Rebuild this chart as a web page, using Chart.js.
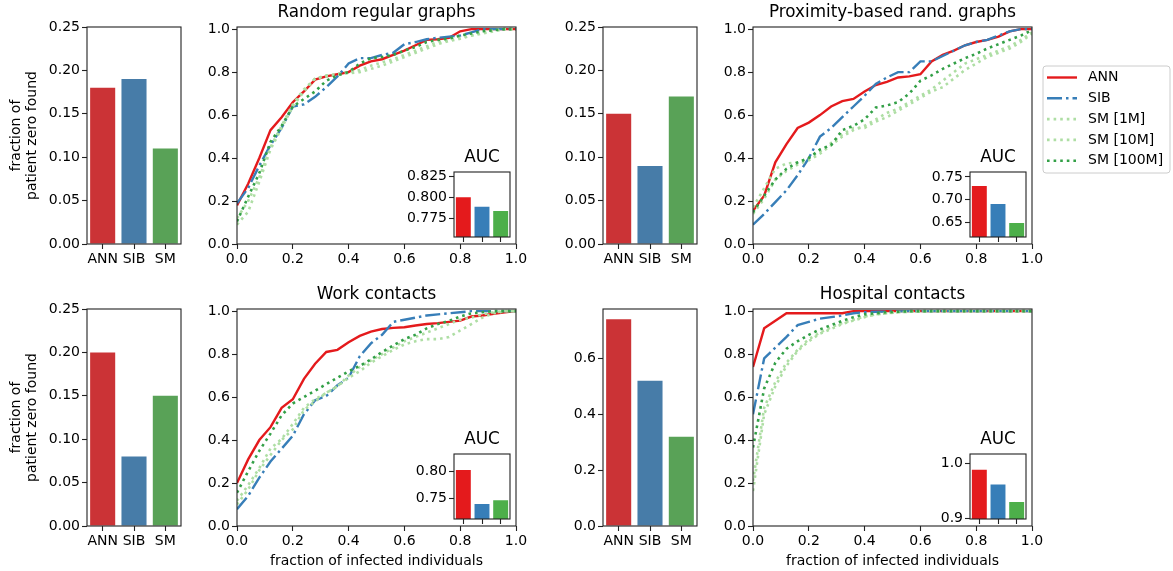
<!DOCTYPE html>
<html lang="en">
<head>
<meta charset="UTF-8">
<title>Patient zero detection</title>
<script src="https://cdn.jsdelivr.net/npm/chart.js"></script>
<style>
  body { margin: 0; background: #fff; width: 1173px; height: 571px; position: relative; overflow: hidden; }
  canvas { position: absolute; }
</style>
</head>
<body>
<script>
// ---- data ----
const methods = ['ANN', 'SIB', 'SM'];
const curveNames = ['ANN', 'SIB', 'SM [1M]', 'SM [10M]', 'SM [100M]'];
const fractionInfected = [0.00, 0.04, 0.08, 0.12, 0.16, 0.20, 0.24, 0.28, 0.32, 0.36, 0.40, 0.44, 0.48,
                          0.52, 0.56, 0.60, 0.64, 0.68, 0.72, 0.76, 0.80, 0.84, 0.88, 0.92, 0.96, 1.00];

// Random regular graphs
const rrgFound = [0.18, 0.19, 0.11];
const rrgAuc = [0.800, 0.789, 0.784];
const rrgAnn = [0.18, 0.28, 0.40, 0.53, 0.59, 0.66, 0.71, 0.765, 0.78, 0.79, 0.80, 0.83, 0.85, 0.86, 0.88, 0.90, 0.925, 0.95, 0.953, 0.96, 0.99, 1.0, 1.0, 1.0, 1.0, 1.0];
const rrgSib = [0.19, 0.26, 0.365, 0.46, 0.54, 0.64, 0.65, 0.685, 0.73, 0.78, 0.84, 0.865, 0.865, 0.88, 0.89, 0.93, 0.94, 0.953, 0.96, 0.965, 0.97, 0.985, 1.0, 1.0, 1.0, 1.0];
const rrgSm1M = [0.09, 0.15, 0.29, 0.44, 0.54, 0.64, 0.71, 0.77, 0.785, 0.79, 0.795, 0.80, 0.815, 0.83, 0.85, 0.87, 0.89, 0.91, 0.93, 0.945, 0.955, 0.97, 0.98, 0.99, 1.0, 1.0];
const rrgSm10M = [0.12, 0.20, 0.31, 0.45, 0.55, 0.65, 0.72, 0.77, 0.78, 0.79, 0.80, 0.81, 0.83, 0.845, 0.86, 0.88, 0.90, 0.92, 0.94, 0.95, 0.96, 0.97, 0.985, 0.995, 1.0, 1.0];
const rrgSm100M = [0.105, 0.22, 0.33, 0.475, 0.55, 0.64, 0.675, 0.71, 0.76, 0.785, 0.80, 0.84, 0.865, 0.87, 0.88, 0.90, 0.917, 0.94, 0.95, 0.956, 0.97, 0.98, 0.99, 0.995, 1.0, 1.0];

// Proximity-based random graphs
const proxFound = [0.15, 0.09, 0.17];
const proxAuc = [0.730, 0.690, 0.648];
const proxAnn = [0.155, 0.225, 0.38, 0.465, 0.54, 0.565, 0.60, 0.64, 0.665, 0.675, 0.71, 0.74, 0.755, 0.775, 0.78, 0.79, 0.85, 0.88, 0.90, 0.925, 0.94, 0.95, 0.965, 0.99, 1.0, 1.0];
const proxSib = [0.09, 0.14, 0.195, 0.25, 0.32, 0.40, 0.50, 0.54, 0.59, 0.64, 0.69, 0.745, 0.775, 0.80, 0.80, 0.85, 0.85, 0.875, 0.90, 0.925, 0.94, 0.95, 0.97, 0.99, 1.0, 1.0];
const proxSm1M = [0.17, 0.26, 0.35, 0.375, 0.38, 0.40, 0.43, 0.47, 0.51, 0.54, 0.54, 0.57, 0.59, 0.62, 0.65, 0.68, 0.71, 0.73, 0.77, 0.81, 0.84, 0.87, 0.89, 0.91, 0.94, 0.98];
const proxSm10M = [0.14, 0.21, 0.30, 0.34, 0.37, 0.39, 0.42, 0.46, 0.50, 0.53, 0.55, 0.58, 0.61, 0.63, 0.66, 0.69, 0.72, 0.76, 0.80, 0.84, 0.86, 0.88, 0.90, 0.92, 0.95, 0.985];
const proxSm100M = [0.148, 0.225, 0.30, 0.35, 0.38, 0.40, 0.44, 0.46, 0.53, 0.55, 0.58, 0.635, 0.645, 0.66, 0.70, 0.76, 0.785, 0.815, 0.84, 0.865, 0.885, 0.91, 0.93, 0.95, 0.97, 0.995];

// Work contacts
const workFound = [0.20, 0.08, 0.15];
const workAuc = [0.802, 0.739, 0.746];
const workAnn = [0.20, 0.31, 0.40, 0.46, 0.55, 0.59, 0.685, 0.755, 0.81, 0.82, 0.855, 0.885, 0.905, 0.917, 0.922, 0.925, 0.933, 0.94, 0.944, 0.95, 0.956, 0.975, 0.98, 0.988, 0.995, 1.0];
const workSib = [0.078, 0.14, 0.225, 0.30, 0.36, 0.42, 0.52, 0.585, 0.605, 0.655, 0.69, 0.79, 0.85, 0.89, 0.95, 0.96, 0.97, 0.98, 0.985, 0.99, 0.995, 1.0, 1.0, 1.0, 1.0, 1.0];
const workSm1M = [0.117, 0.19, 0.27, 0.36, 0.405, 0.475, 0.55, 0.59, 0.62, 0.65, 0.69, 0.72, 0.76, 0.79, 0.82, 0.845, 0.86, 0.87, 0.87, 0.88, 0.91, 0.94, 0.97, 0.99, 1.0, 1.0];
const workSm10M = [0.10, 0.17, 0.26, 0.33, 0.40, 0.45, 0.54, 0.58, 0.62, 0.65, 0.70, 0.74, 0.77, 0.80, 0.83, 0.86, 0.88, 0.90, 0.92, 0.94, 0.96, 0.97, 0.985, 0.995, 1.0, 1.0];
const workSm100M = [0.155, 0.255, 0.35, 0.43, 0.515, 0.57, 0.60, 0.63, 0.66, 0.69, 0.72, 0.745, 0.775, 0.81, 0.84, 0.87, 0.89, 0.92, 0.94, 0.955, 0.975, 0.99, 0.995, 1.0, 1.0, 1.0];

// Hospital contacts
const hospFound = [0.74, 0.52, 0.32];
const hospAuc = [0.989, 0.962, 0.930];
const hospAnn = [0.74, 0.92, 0.955, 0.99, 0.99, 0.99, 0.99, 0.99, 0.99, 1.0, 1.0, 1.0, 1.0, 1.0, 1.0, 1.0, 1.0, 1.0, 1.0, 1.0, 1.0, 1.0, 1.0, 1.0, 1.0, 1.0];
const hospSib = [0.52, 0.78, 0.83, 0.88, 0.935, 0.95, 0.965, 0.972, 0.98, 0.99, 0.995, 0.997, 0.998, 0.999, 1.0, 1.0, 1.0, 1.0, 1.0, 1.0, 1.0, 1.0, 1.0, 1.0, 1.0, 1.0];
const hospSm1M = [0.163, 0.52, 0.65, 0.745, 0.815, 0.86, 0.895, 0.917, 0.94, 0.956, 0.972, 0.985, 0.99, 0.995, 0.997, 0.998, 1.0, 1.0, 1.0, 1.0, 1.0, 1.0, 1.0, 1.0, 1.0, 1.0];
const hospSm10M = [0.21, 0.55, 0.67, 0.76, 0.82, 0.87, 0.90, 0.925, 0.945, 0.96, 0.975, 0.985, 0.99, 0.995, 0.997, 0.998, 1.0, 1.0, 1.0, 1.0, 1.0, 1.0, 1.0, 1.0, 1.0, 1.0];
const hospSm100M = [0.365, 0.64, 0.76, 0.825, 0.86, 0.89, 0.915, 0.935, 0.955, 0.972, 0.985, 0.99, 0.995, 0.997, 1.0, 1.0, 1.0, 1.0, 1.0, 1.0, 1.0, 1.0, 1.0, 1.0, 1.0, 1.0];

// tick labels
const foundTicks = ['0.00', '0.05', '0.10', '0.15', '0.20', '0.25'];
const hospFoundTicks = ['0.0', '0.2', '0.4', '0.6'];
const curveTicks = ['0.0', '0.2', '0.4', '0.6', '0.8', '1.0'];
const rrgAucTicks = ['0.775', '0.800', '0.825'];
const proxAucTicks = ['0.65', '0.70', '0.75'];
const workAucTicks = ['0.75', '0.80'];
const hospAucTicks = ['0.9', '1.0'];

// ---- styles ----
const barColors = ['#cb3336', '#477ca8', '#59a257'];
const aucColors = ['#e41a1c', '#377eb8', '#4daf4a'];
const curveColors = ['#e41a1c', '#377eb8', '#aedea4', '#aedea4', '#33a047'];
const curveDashes = [[], [15, 4, 2.5, 4], [2.6, 4], [2.6, 4], [2.6, 4]];
const curveWidths = [2.4, 2.4, 2.6, 2.6, 2.6];

Chart.defaults.font.family = '"DejaVu Sans", sans-serif';
Chart.defaults.font.size = 14;
Chart.defaults.color = '#000';
Chart.defaults.animation = false;
Chart.defaults.responsive = false;
Chart.defaults.devicePixelRatio = 1;
Chart.defaults.plugins.legend.display = false;
Chart.defaults.plugins.tooltip.enabled = false;

const INK = '#222';

// box around each axes, white face for the insets
const framePlugin = {
  id: 'frame',
  beforeDatasetsDraw(chart, args, opts) {
    if (!opts.fill) return;
    const a = chart.chartArea, ctx = chart.ctx;
    ctx.save();
    ctx.fillStyle = opts.fill;
    ctx.fillRect(a.left, a.top, a.right - a.left, a.bottom - a.top);
    ctx.restore();
  },
  afterDatasetsDraw(chart) {
    const a = chart.chartArea, ctx = chart.ctx;
    ctx.save();
    ctx.strokeStyle = INK;
    ctx.lineWidth = 1.1;
    ctx.strokeRect(a.left, a.top, a.right - a.left, a.bottom - a.top);
    ctx.restore();
  }
};

// matplotlib-like legend outside the proximity panel
const legendPlugin = {
  id: 'sideLegend',
  afterDraw(chart) {
    const ctx = chart.ctx, a = chart.chartArea;
    const x0 = a.right + 11, y0 = a.top + 39, w = 127, h = 107;
    ctx.save();
    ctx.fillStyle = 'rgba(255,255,255,0.8)';
    ctx.strokeStyle = '#cccccc';
    ctx.lineWidth = 1;
    ctx.beginPath();
    if (ctx.roundRect) ctx.roundRect(x0, y0, w, h, 3); else ctx.rect(x0, y0, w, h);
    ctx.fill();
    ctx.stroke();
    chart.data.datasets.forEach((ds, i) => {
      const y = y0 + 11.5 + i * 20.8;
      ctx.beginPath();
      ctx.setLineDash(ds.borderDash);
      ctx.lineWidth = ds.borderWidth;
      ctx.strokeStyle = ds.borderColor;
      ctx.moveTo(x0 + 4, y);
      ctx.lineTo(x0 + 34, y);
      ctx.stroke();
      ctx.setLineDash([]);
      ctx.fillStyle = '#000';
      ctx.font = '14px "DejaVu Sans", sans-serif';
      ctx.textBaseline = 'middle';
      ctx.textAlign = 'left';
      ctx.fillText(ds.label, x0 + 45, y);
    });
    ctx.restore();
  }
};

function addCanvas(area, pad) {
  const c = document.createElement('canvas');
  const w = area[2] - area[0] + pad.l + pad.r;
  const h = area[3] - area[1] + pad.t + pad.b;
  c.width = w;
  c.height = h;
  c.style.left = (area[0] - pad.l) + 'px';
  c.style.top = (area[1] - pad.t) + 'px';
  c.style.width = w + 'px';
  c.style.height = h + 'px';
  document.body.appendChild(c);
  return c;
}

const tickGrid = { display: true, drawOnChartArea: false, drawTicks: true, tickLength: 5, tickWidth: 1.1, tickColor: INK, color: INK };

function linearAxis(min, max, labels, size) {
  return {
    type: 'linear', min, max,
    afterBuildTicks: s => { s.ticks = labels.map(t => ({ value: parseFloat(t) })); },
    afterFit: s => { if (s.isHorizontal()) s.height = size; else s.width = size; },
    ticks: { callback: (v, i) => labels[i], autoSkip: false, maxRotation: 0, padding: 2 },
    grid: tickGrid,
    border: { display: false }
  };
}

function categoryAxis(size, showLabels) {
  return {
    type: 'category', offset: true,
    afterFit: s => { s.height = size; },
    ticks: { display: showLabels, autoSkip: false, maxRotation: 0, padding: 2 },
    grid: Object.assign({}, tickGrid, { offset: false }),
    border: { display: false }
  };
}

function titleOpts(text) {
  return {
    display: !!text, text, fullSize: false, color: '#000',
    font: { size: 16.8, weight: 'normal', lineHeight: 1.2 },
    padding: { top: 0, bottom: 3.84 }
  };
}

function barChart(o) {
  const pad = o.pad;
  const c = addCanvas(o.area, pad);
  const y = linearAxis(o.range[0], o.range[1], o.ticks, pad.l);
  if (o.yTitle) {
    y.title = { display: true, text: o.yTitle, font: { size: 14, lineHeight: 1.12 }, padding: { top: 9, bottom: 0 } };
  }
  return new Chart(c, {
    type: 'bar',
    data: {
      labels: methods,
      datasets: [{ data: o.values, backgroundColor: o.colors, barPercentage: 0.8, categoryPercentage: 1.0 }]
    },
    options: {
      layout: { autoPadding: false, padding: { top: o.title ? 0 : pad.t, right: pad.r, left: 0, bottom: 0 } },
      scales: { x: categoryAxis(pad.b, !o.title), y },
      plugins: { title: titleOpts(o.title), frame: { fill: o.title ? '#fff' : null } }
    },
    plugins: [framePlugin]
  });
}

function curveChart(o) {
  const pad = o.pad;
  const c = addCanvas(o.area, pad);
  const x = linearAxis(0, 1, curveTicks, pad.b);
  if (o.xTitle) {
    x.title = { display: true, text: o.xTitle, font: { size: 14, lineHeight: 1.2 }, padding: { top: 0, bottom: 1 } };
  }
  return new Chart(c, {
    type: 'line',
    data: {
      datasets: o.series.map((ys, k) => ({
        label: curveNames[k],
        data: ys.map((v, i) => ({ x: fractionInfected[i], y: v })),
        borderColor: curveColors[k],
        borderWidth: curveWidths[k],
        borderDash: curveDashes[k],
        borderCapStyle: 'butt',
        pointRadius: 0,
        tension: 0,
        fill: false,
        order: 5 - k
      }))
    },
    options: {
      layout: { autoPadding: false, padding: { top: 0, right: pad.r, left: 0, bottom: 0 } },
      scales: { x, y: linearAxis(0, 1.01, curveTicks, pad.l) },
      plugins: { title: titleOpts(o.title), frame: {} }
    },
    plugins: o.legend ? [framePlugin, legendPlugin] : [framePlugin]
  });
}

// ---- layout (page pixels: left, top, right, bottom of each axes box) ----
const rowTop = [27, 244], rowBot = [309, 526];
const yLabel = ['fraction of', 'patient zero found'];
const xLabel = 'fraction of infected individuals';
const panels = [
  { name: 'Random regular graphs', found: rrgFound, ticks: foundTicks, range: [0, 0.25], auc: rrgAuc, aucTicks: rrgAucTicks, aucRange: [0.7536, 0.8297],
    series: [rrgAnn, rrgSib, rrgSm1M, rrgSm10M, rrgSm100M], col: 0, row: rowTop },
  { name: 'Proximity-based rand. graphs', found: proxFound, ticks: foundTicks, range: [0, 0.25], auc: proxAuc, aucTicks: proxAucTicks, aucRange: [0.617, 0.761],
    series: [proxAnn, proxSib, proxSm1M, proxSm10M, proxSm100M], col: 1, row: rowTop, legend: true },
  { name: 'Work contacts', found: workFound, ticks: foundTicks, range: [0, 0.25], auc: workAuc, aucTicks: workAucTicks, aucRange: [0.711, 0.832],
    series: [workAnn, workSib, workSm1M, workSm10M, workSm100M], col: 0, row: rowBot },
  { name: 'Hospital contacts', found: hospFound, ticks: hospFoundTicks, range: [0, 0.777], auc: hospAuc, aucTicks: hospAucTicks, aucRange: [0.899, 1.018],
    series: [hospAnn, hospSib, hospSm1M, hospSm10M, hospSm100M], col: 1, row: rowBot }
];
const barX = [[87, 181], [603, 697]];
const curveX = [[237, 516], [753, 1032]];
const insetX = [[454, 510], [970, 1026]];

panels.forEach(p => {
  const bottomRow = p.row === rowBot;
  const [t, b] = p.row;
  barChart({
    area: [barX[p.col][0], t, barX[p.col][1], b],
    pad: { l: p.col === 0 ? 87 : 50, r: 6, t: 12, b: 25 },
    values: p.found, colors: barColors, ticks: p.ticks, range: p.range,
    yTitle: p.col === 0 ? yLabel : null
  });
  curveChart({
    area: [curveX[p.col][0], t, curveX[p.col][1], b],
    pad: { l: 40, r: p.legend ? 141 : 14, t: 24, b: bottomRow ? 45 : 25 },
    series: p.series, title: p.name, legend: p.legend,
    xTitle: bottomRow ? xLabel : null
  });
  const it = t + 145;
  barChart({
    area: [insetX[p.col][0], it, insetX[p.col][1], it + 65],
    pad: { l: 46, r: 2, t: 24, b: 12 },
    values: p.auc, colors: aucColors, ticks: p.aucTicks, range: p.aucRange,
    title: 'AUC'
  });
});
</script>
</body>
</html>
